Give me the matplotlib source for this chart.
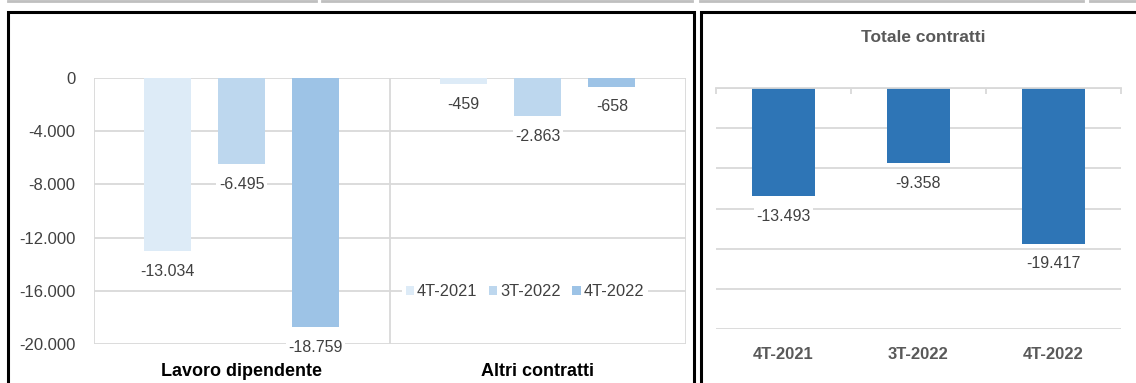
import numpy as np
import matplotlib
matplotlib.use("Agg")
import matplotlib.pyplot as plt
import matplotlib.patches as patches
from matplotlib.lines import Line2D

plt.rcParams['font.family'] = ['Liberation Sans', 'DejaVu Sans']

# contract balance by type and quarter
groups = ["Lavoro dipendente", "Altri contratti"]
periods = ["4T-2021", "3T-2022", "4T-2022"]
lavoro_dip = [-13034, -6495, -18759]
altri = [-459, -2863, -658]
totale = [-13493, -9358, -19417]

period_colors = ["#DDEBF7", "#BDD7EE", "#9DC3E6"]
total_color = "#2E75B6"
grid_c = "#D9D9D9"
txt_c = "#404040"

def fmt(v):
    # Italian thousands separator
    s = f"{abs(v):,}".replace(",", ".")
    return ("-" if v < 0 else "") + s

W, H = 1136, 383
fig = plt.figure(figsize=(W / 100, H / 100), dpi=100)

def fx(px):
    return px / W

def fy(py):
    return 1 - py / H

# panel frames and the table edge above
fig.add_artist(patches.Rectangle((fx(8), fy(390)), fx(686), fy(12) - fy(390),
                                 transform=fig.transFigure, fill=False,
                                 edgecolor="black", lw=2.2))
fig.add_artist(patches.Rectangle((fx(701), fy(390)), fx(460), fy(12) - fy(390),
                                 transform=fig.transFigure, fill=False,
                                 edgecolor="black", lw=2.2))
for x0, x1 in [(8, 316), (322, 692), (700, 1083), (1090, 1136)]:
    fig.add_artist(Line2D([fx(x0), fx(x1)], [fy(1), fy(1)], transform=fig.transFigure,
                          color="#BFBFBF", lw=2))

# ---- left panel: grouped bars
ax = fig.add_axes([fx(93.5), fy(344), fx(686) - fx(93.5), fy(78) - fy(344)])
x = np.arange(len(groups))
series = np.array([lavoro_dip, altri]).T  # rows = periods
bw = 0.159
offs = [-0.25, 0, 0.25]
for i, p in enumerate(periods):
    bars = ax.bar(x + offs[i], series[i], bw, color=period_colors[i], label=p, zorder=2)
    for b, v in zip(bars, series[i]):
        ax.annotate(fmt(v), (b.get_x() + b.get_width() / 2, v), xytext=(0, -20),
                    textcoords="offset pixels", ha="center", va="center",
                    fontsize=11.5, color=txt_c, zorder=4,
                    bbox=dict(boxstyle="square,pad=0.15", fc="white", ec="none"))

ax.set_ylim(-20000, 0)
ax.set_xlim(-0.5, 1.5)
ax.set_yticks(np.arange(-20000, 1, 4000))
ax.set_yticklabels([fmt(v) for v in np.arange(-20000, 1, 4000)])
ax.yaxis.grid(True, color=grid_c, lw=1.3, zorder=0)
ax.set_axisbelow(True)
for b in [-0.5, 0.5, 1.5]:
    ax.axvline(b, color=grid_c, lw=1.3, zorder=0)
for s in ax.spines.values():
    s.set_visible(False)
ax.tick_params(axis="y", length=0, pad=13, labelsize=12, labelcolor=txt_c)
ax.set_xticks(x)
ax.set_xticklabels(groups, fontsize=13, fontweight="bold", color="black")
ax.tick_params(axis="x", length=0, pad=14)
leg = ax.legend(loc="center", bbox_to_anchor=(fx(525), fy(292)),
                bbox_transform=fig.transFigure, ncol=3, frameon=True,
                fontsize=11.8, handlelength=0.5, handleheight=0.5,
                handletextpad=0.2, columnspacing=0.7, borderpad=0.2,
                labelcolor=txt_c)
leg.get_frame().set_facecolor("white")
leg.get_frame().set_edgecolor("none")
leg.get_frame().set_alpha(1)

# ---- right panel: totals
ax2 = fig.add_axes([fx(716), fy(329), fx(1121) - fx(716), fy(88) - fy(329)])
x2 = np.arange(len(periods))
bars = ax2.bar(x2, totale, 0.46, color=total_color, zorder=2)
for b, v in zip(bars, totale):
    ax2.annotate(fmt(v), (b.get_x() + b.get_width() / 2, v), xytext=(0, -20),
                 textcoords="offset pixels", ha="center", va="center",
                 fontsize=11.5, color=txt_c, zorder=4,
                 bbox=dict(boxstyle="square,pad=0.15", fc="white", ec="none"))
ax2.set_ylim(-30000, 0)
ax2.set_xlim(-0.5, 2.5)
ax2.set_yticks(np.arange(-30000, 1, 5000))
ax2.set_yticklabels([])
ax2.yaxis.grid(True, color=grid_c, lw=1.3, zorder=0)
ax2.set_axisbelow(True)
for s in ax2.spines.values():
    s.set_visible(False)
ax2.spines["top"].set_visible(True)
ax2.spines["top"].set_color(grid_c)
ax2.spines["top"].set_linewidth(1.3)
ax2.tick_params(axis="y", length=0)
ax2.set_xticks(x2)
ax2.set_xticklabels(periods, fontsize=12, fontweight="bold", color="#595959")
ax2.set_xticks([-0.5, 0.5, 1.5, 2.5], minor=True)
ax2.tick_params(axis="x", which="major", length=0, pad=13)
ax2.tick_params(axis="x", which="minor", bottom=False, top=True, direction="in",
                length=4, color=grid_c, width=1.3)
fig.text(fx(923), fy(38), "Totale contratti", ha="center", va="center",
         fontsize=12.5, fontweight="bold", color="#595959")

fig.savefig("out.png", dpi=100)
